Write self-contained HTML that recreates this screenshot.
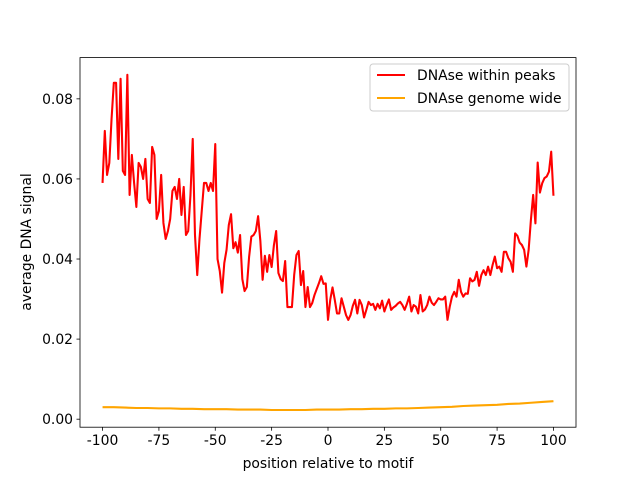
<!DOCTYPE html>
<html><head><meta charset="utf-8"><style>
body{margin:0;background:#fff}
svg text{font-family:"DejaVu Sans","Liberation Sans",sans-serif;font-size:13.9px;fill:#000}
</style></head><body>
<svg id="chart" width="640" height="480" xmlns="http://www.w3.org/2000/svg"></svg>
<script>
const xTicks=[-100,-75,-50,-25,0,25,50,75,100];
const yTicks=[0,0.02,0.04,0.06,0.08];
const yTickLabels=["0.00","0.02","0.04","0.06","0.08"];
const peaksValues=[
0.059,0.072,0.061,0.064,0.075,0.084,0.084,0.065,0.085,0.062,
0.061,0.086,0.056,0.066,0.059,0.053,0.064,0.063,0.060,0.065,
0.055,0.054,0.068,0.066,0.050,0.052,0.061,0.049,0.045,
0.047,0.050,0.057,0.058,0.055,0.060,0.051,0.058,0.046,0.047,
0.056,0.070,0.046,0.036,0.045,0.052,0.059,0.059,0.057,0.059,0.057,
0.0687,0.040,0.037,0.0316,0.039,0.0423,0.0485,0.0512,0.0427,0.0442,
0.0416,0.046,0.035,0.032,0.033,0.0405,0.0456,0.046,0.047,0.0507,
0.0445,0.0348,0.0408,0.0368,0.041,0.038,0.0434,0.047,0.0365,0.035,
0.0345,0.0395,0.028,0.028,0.028,0.036,0.041,0.042,0.0335,0.037,
0.028,0.033,0.028,0.029,0.031,0.0325,0.034,0.0357,0.0338,
0.0339,0.0248,0.0298,0.0329,0.0298,0.0264,0.0264,0.0302,0.0281,0.0260,
0.0248,0.0260,0.0283,0.0298,0.0264,0.0298,0.0285,0.0254,0.0273,0.0293,
0.0285,0.0288,0.0273,0.0288,0.0277,0.0296,0.0269,0.0285,0.0299,0.0273,
0.0279,0.0283,0.0289,0.0293,0.0285,0.0273,0.0288,0.0306,0.0269,0.0285,
0.0281,0.0264,0.0310,0.0269,0.0274,0.0285,0.0306,0.0291,0.0285,0.0293,
0.0302,0.0299,
0.0299,0.0306,0.0248,0.0281,0.0306,0.0318,0.0306,0.0348,0.0318,0.0306,
0.0314,0.0313,0.0352,0.0344,0.0348,0.0368,0.0333,0.0360,0.0372,0.0360,
0.0381,0.0360,0.0385,0.0406,0.0377,0.0381,0.0368,0.0418,0.0418,0.0402,
0.0393,0.0368,0.0464,0.0458,0.0441,0.0435,0.0423,0.0381,0.0423,0.0498,
0.0560,0.0489,0.0641,0.0566,0.0589,0.0602,0.0606,0.0618,0.0668,0.0558];
const genomeValues=[0.0030,0.0030,0.0029,0.0028,0.0028,0.0027,0.0027,0.0026,0.0026,0.0025,
0.0025,0.0025,0.0024,0.0024,0.0024,0.0023,0.0023,0.0023,0.0023,0.0024,
0.0024,0.0024,0.0025,0.0025,0.0026,0.0026,0.0027,0.0027,0.0028,0.0029,
0.0030,0.0031,0.0033,0.0034,0.0035,0.0036,0.0038,0.0039,0.0041,0.0043,0.0045];
const genomeStep=5;
const L=80,R=576,T=57.6,B=427.2,xmin=-110,xmax=110,ymin=-0.002,ymax=0.0903;
const sx=v=>L+(v-xmin)/(xmax-xmin)*(R-L);
const sy=v=>B-(v-ymin)/(ymax-ymin)*(B-T);
const svg=document.getElementById('chart');
const NS='http://www.w3.org/2000/svg';
function mk(tag,attrs,parent){const e=document.createElementNS(NS,tag);for(const k in attrs)e.setAttribute(k,attrs[k]);(parent||svg).appendChild(e);return e;}
let d=peaksValues.map((v,i)=>(i?'L':'M')+sx(-100+i).toFixed(2)+','+sy(v).toFixed(2)).join('');
const p1=mk('path',{d:d,fill:'none',stroke:'#ff0000','stroke-width':2.08,'stroke-linejoin':'round'});


d=genomeValues.map((v,i)=>(i?'L':'M')+sx(-100+i*genomeStep).toFixed(2)+','+sy(v).toFixed(2)).join('');
const p2=mk('path',{d:d,fill:'none',stroke:'#ffa500','stroke-width':2.08});


const fr=mk('rect',{x:L,y:T,width:R-L,height:B-T,fill:'none',stroke:'#000','stroke-width':0.8});


xTicks.forEach(v=>{
  mk('line',{x1:sx(v),x2:sx(v),y1:B,y2:B+3.5,stroke:'#000','stroke-width':0.8});
  const t=mk('text',{x:sx(v),y:B+18,'text-anchor':'middle'});t.textContent=v;
  
  
});
yTicks.forEach((v,i)=>{
  mk('line',{x1:L-3.5,x2:L,y1:sy(v),y2:sy(v),stroke:'#000','stroke-width':0.8});
  const t=mk('text',{x:L-7,y:sy(v)+5,'text-anchor':'end'});t.textContent=yTickLabels[i];
  
  
});
const xt=mk('text',{x:(L+R)/2,y:468,'text-anchor':'middle'});xt.textContent='position relative to motif';


const yt=mk('text',{x:0,y:0,'text-anchor':'middle',transform:'translate(31,242) rotate(-90)'});yt.textContent='average DNA signal';


const lg=mk('g',{});


mk('rect',{x:370,y:64,width:199,height:47,rx:3,fill:'#fff',stroke:'#ccc','stroke-width':1},lg);
[['DNAse within peaks','#ff0000',75],['DNAse genome wide','#ffa500',98]].forEach(e=>{
  const g=mk('g',{},lg);
  
  
  mk('line',{x1:377,x2:405,y1:e[2],y2:e[2],stroke:e[1],'stroke-width':2.08},g);
  const t=mk('text',{x:417,y:e[2]+5},g);t.textContent=e[0];
});
</script>
</body></html>
